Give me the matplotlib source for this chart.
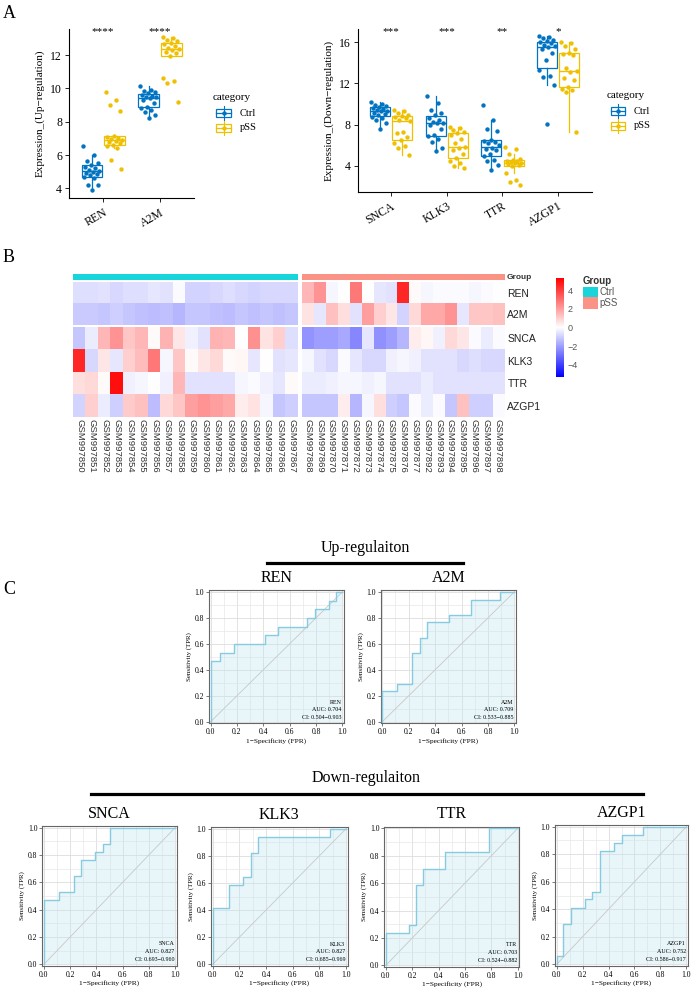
import numpy as np
import matplotlib
matplotlib.use("Agg")
import matplotlib.pyplot as plt
from matplotlib.colors import LinearSegmentedColormap
from matplotlib.patches import Rectangle
from matplotlib.lines import Line2D
import matplotlib.transforms as mtransforms

W, H = 694, 992
plt.rcParams['font.family'] = ['Liberation Serif', 'DejaVu Serif']
plt.rcParams['axes.unicode_minus'] = True

# ---------------- data: panel A ----------------
groups = ["Ctrl", "pSS"]
up_genes = ["REN", "A2M"]
down_genes = ["SNCA", "KLK3", "TTR", "AZGP1"]
up_stars = ["****", "****"]
down_stars = ["***", "***", "**", "*"]

ren_ctrl = [6.55, 6.02, 5.65, 5.52, 5.4, 5.3, 5.22, 5.12, 5.05, 4.98, 4.92, 4.85, 4.78, 4.68, 4.6, 4.22, 4.18, 3.9]
ren_pss = [9.8, 9.3, 9.0, 8.65, 7.15, 7.1, 7.02, 6.95, 6.9, 6.85, 6.78, 6.7, 6.62, 6.55, 6.45, 5.72, 5.15]
a2m_ctrl = [10.15, 9.9, 9.85, 9.78, 9.7, 9.62, 9.55, 9.5, 9.48, 9.4, 9.3, 9.1, 8.9, 8.85, 8.7, 8.6, 8.4, 8.2]
a2m_pss = [13.1, 13.0, 12.92, 12.85, 12.75, 12.65, 12.55, 12.45, 12.35, 12.3, 12.2, 12.1, 11.95, 10.6, 10.45, 10.3, 9.2]
snca_ctrl = [10.15, 10.0, 9.9, 9.8, 9.7, 9.6, 9.5, 9.42, 9.35, 9.28, 9.15, 9.05, 8.9, 8.75, 8.6, 8.4, 8.15, 7.6]
snca_pss = [9.4, 9.3, 9.15, 8.95, 8.8, 8.75, 8.6, 8.4, 8.35, 7.3, 7.15, 6.8, 6.5, 6.2, 5.95, 5.7, 5.0]
klk3_ctrl = [10.8, 10.1, 9.4, 9.15, 8.95, 8.6, 8.4, 8.25, 8.2, 8.15, 8.0, 7.6, 7.0, 6.85, 6.6, 6.3, 5.7, 5.45]
klk3_pss = [7.75, 7.65, 7.5, 7.3, 7.15, 7.0, 6.55, 6.2, 5.85, 5.75, 5.5, 5.1, 4.7, 4.5, 4.3, 3.95, 3.75]
ttr_ctrl = [9.95, 8.4, 7.6, 7.4, 6.5, 6.45, 6.35, 6.2, 6.0, 5.7, 5.6, 5.5, 5.1, 4.9, 4.6, 4.5, 4.05, 3.6]
ttr_pss = [5.8, 5.6, 5.1, 4.65, 4.6, 4.5, 4.45, 4.35, 4.3, 4.25, 4.15, 4.05, 4.0, 3.3, 2.6, 2.45, 2.1]
azgp1_ctrl = [16.6, 16.5, 16.4, 16.25, 16.1, 16.0, 15.9, 15.75, 15.6, 15.55, 15.4, 14.95, 14.3, 13.3, 12.75, 12.6, 11.85, 8.05]
azgp1_pss = [16.05, 15.9, 15.6, 15.4, 14.95, 14.85, 14.75, 13.5, 13.25, 13.15, 12.5, 12.3, 11.7, 11.5, 11.35, 11.2, 7.3]

# ---------------- data: panel B (z-scores) ----------------
hm_genes = ["REN", "A2M", "SNCA", "KLK3", "TTR", "AZGP1"]
ctrl_samples = ["GSM997850", "GSM997851", "GSM997852", "GSM997853", "GSM997854", "GSM997855",
                "GSM997856", "GSM997857", "GSM997858", "GSM997859", "GSM997860", "GSM997861",
                "GSM997862", "GSM997863", "GSM997864", "GSM997865", "GSM997866", "GSM997867"]
pss_samples = ["GSM997868", "GSM997869", "GSM997870", "GSM997871", "GSM997872", "GSM997873",
               "GSM997874", "GSM997875", "GSM997876", "GSM997877", "GSM997892", "GSM997893",
               "GSM997894", "GSM997895", "GSM997896", "GSM997897", "GSM997898"]
ren_z_ctrl = [-0.7, -0.7, -0.6, -0.8, -0.7, -0.7, -0.5, -0.6, -0.1, -0.9, -0.9, -0.8, -0.7, -0.8, -0.9, -0.8, -0.8, -0.8]
ren_z_pss = [1.5, 2.2, -0.2, 0.0, 2.8, 0.0, -0.5, -0.6, 4.5, 0.1, -0.2, -0.1, -0.1, -0.1, -0.2, -0.1, 0.0]
a2m_z_ctrl = [-1.1, -1.1, -1.2, -1.0, -1.2, -1.3, -1.4, -1.3, -1.5, -1.2, -1.2, -1.3, -1.4, -1.2, -1.3, -1.2, -1.3, -1.2]
a2m_z_pss = [0.6, -0.5, 1.3, 0.7, -0.6, 2.0, 1.0, 0.5, -0.9, 0.8, 1.8, 1.8, 2.2, -0.5, 1.2, 1.2, 1.3]
snca_z_ctrl = [-1.2, -0.4, 1.5, 2.2, 1.2, 1.5, 0.1, 1.6, 0.5, -0.3, -0.6, 1.6, 1.5, 0.0, 2.3, 0.6, 1.0, -0.7]
snca_z_pss = [-2.2, -2.0, -2.0, -1.8, -2.5, -0.5, -2.3, -2.0, -1.5, 0.4, 0.2, -0.3, 0.8, 0.5, -0.1, -0.4, -0.1]
klk3_z_ctrl = [4.5, -0.8, 0.5, -0.5, 1.0, 1.4, 2.8, -0.2, 1.2, 0.1, 0.5, 0.8, 0.1, 0.2, -0.5, 0.0, -0.6, -0.5]
klk3_z_pss = [-0.2, -0.6, -0.8, -0.1, -0.5, -0.8, -0.8, -0.3, -0.2, -0.3, -0.6, -0.6, -0.6, -0.8, -0.7, -0.8, -0.8]
ttr_z_ctrl = [0.7, 0.8, 0.1, 5.0, -0.3, -0.2, 0.0, -0.3, 1.5, -0.6, -0.6, -0.6, -0.6, -0.2, -0.1, -0.3, -0.5, 0.1]
ttr_z_pss = [-0.4, -0.4, -0.3, -0.2, -0.2, -0.3, -0.2, -0.6, -0.6, -0.6, -0.4, -0.6, -0.6, -0.6, -0.6, -0.6, -0.6]
azgp1_z_ctrl = [-0.9, 1.0, -0.4, -1.0, 1.1, 1.3, -1.4, 0.8, 1.2, 2.0, 2.2, 2.0, 1.8, 0.4, 0.6, -0.2, -1.2, -1.0]
azgp1_z_pss = [-1.2, -1.2, -1.2, 0.4, -1.5, -0.2, 0.7, -1.0, -1.2, -0.1, -0.4, -0.1, -1.2, 1.3, -1.0, -1.0, -0.1]
cbar_ticks = [4, 2, 0, -2, -4]

# ---------------- data: panel C (ROC step points) ----------------
ren_fpr = [0.0, 0.07, 0.18, 0.41, 0.51, 0.73, 0.79, 0.90, 0.955, 1.0]
ren_tpr = [0.467, 0.533, 0.6, 0.667, 0.733, 0.8, 0.867, 0.933, 1.0, 1.0]
a2m_fpr = [0.0, 0.113, 0.224, 0.286, 0.34, 0.505, 0.67, 0.894, 1.0]
a2m_tpr = [0.235, 0.294, 0.529, 0.647, 0.765, 0.824, 0.941, 1.0, 1.0]
snca_fpr = [0.0, 0.117, 0.226, 0.283, 0.392, 0.449, 0.504, 1.0]
snca_tpr = [0.471, 0.529, 0.647, 0.765, 0.824, 0.882, 1.0, 1.0]
klk3_fpr = [0.0, 0.122, 0.229, 0.285, 0.339, 0.883, 1.0]
klk3_tpr = [0.412, 0.588, 0.647, 0.824, 0.941, 1.0, 1.0]
ttr_fpr = [0.0, 0.173, 0.23, 0.284, 0.449, 0.78, 1.0]
ttr_tpr = [0.235, 0.294, 0.588, 0.706, 0.824, 1.0, 1.0]
azgp1_fpr = [0.0, 0.053, 0.108, 0.22, 0.275, 0.333, 0.443, 0.5, 0.668, 1.0]
azgp1_tpr = [0.059, 0.294, 0.412, 0.471, 0.529, 0.824, 0.882, 0.941, 1.0, 1.0]
roc_auc = {"REN": "0.704", "A2M": "0.709", "SNCA": "0.827", "KLK3": "0.827", "TTR": "0.703", "AZGP1": "0.752"}
roc_ci = {"REN": "0.504\u22120.903", "A2M": "0.533\u22120.885", "SNCA": "0.693\u22120.960",
          "KLK3": "0.685\u22120.969", "TTR": "0.524\u22120.882", "AZGP1": "0.586\u22120.917"}

CTRL_C = "#0073C2"
PSS_C = "#EFC000"
ANN_CTRL = "#17D5DA"
ANN_PSS = "#FA9286"

fig = plt.figure(figsize=(W / 100, H / 100), dpi=100)


def add_ax(x0, y0, x1, y1):
    return fig.add_axes([x0 / W, 1 - y1 / H, (x1 - x0) / W, (y1 - y0) / H])


def ftext(x, y, s, **kw):
    fig.text(x / W, 1 - y / H, s, **kw)


# ======================= Panel A =======================
def box_panel(ax, genes, ctrl_list, pss_list, stars, ylim, yticks, ylabel):
    for i in range(len(genes)):
        for vals, off, col in ((ctrl_list[i], -0.2, CTRL_C), (pss_list[i], 0.2, PSS_C)):
            pos = i + 1 + off
            ax.boxplot([vals], positions=[pos], widths=0.36, showfliers=False, showcaps=False,
                       patch_artist=True, whis=1.5,
                       boxprops=dict(facecolor="white", edgecolor=col, linewidth=0.9),
                       medianprops=dict(color=col, linewidth=1.0),
                       whiskerprops=dict(color=col, linewidth=0.9))
            k = len(vals)
            jit = ((np.arange(k) * 0.618034) % 1 - 0.5) * 0.3
            ax.scatter(pos + jit, vals, s=10, color=col, zorder=3, linewidths=0)
        tr = mtransforms.blended_transform_factory(ax.transData, ax.transAxes)
        ax.text(i + 1, 0.985, stars[i], transform=tr, ha="center", va="center", fontsize=8)
    ax.set_xlim(0.4, len(genes) + 0.6)
    ax.set_ylim(*ylim)
    ax.set_yticks(yticks)
    ax.set_xticks(range(1, len(genes) + 1))
    ax.set_xticklabels(genes, rotation=30, ha="right", rotation_mode="anchor", fontsize=8.5)
    ax.tick_params(axis="y", labelsize=8.5, length=3, width=0.6, pad=2)
    ax.tick_params(axis="x", length=3, width=0.6, pad=3)
    for s in ("top", "right"):
        ax.spines[s].set_visible(False)
    for s in ("left", "bottom"):
        ax.spines[s].set_linewidth(0.8)
    ax.set_ylabel(ylabel, fontsize=8)


axA1 = add_ax(69, 29, 194, 198)
box_panel(axA1, up_genes, [ren_ctrl, a2m_ctrl], [ren_pss, a2m_pss], up_stars,
          (3.42, 13.56), [4, 6, 8, 10, 12], "Expression_(Up\u2212regulation)")
axA2 = add_ax(357.5, 29, 591.7, 192)
box_panel(axA2, down_genes, [snca_ctrl, klk3_ctrl, ttr_ctrl, azgp1_ctrl],
          [snca_pss, klk3_pss, ttr_pss, azgp1_pss], down_stars,
          (1.44, 17.3), [4, 8, 12, 16], "Expression_(Down\u2212regulation)")


def legend_keys(x, ytitle, y1, y2):
    ftext(x, ytitle, "category", fontsize=8, va="center", ha="left")
    for yc, col, lab in ((y1, CTRL_C, groups[0]), (y2, PSS_C, groups[1])):
        bx0, bx1 = x + 3.5, x + 18
        fig.add_artist(Line2D([(bx0 + bx1) / 2 / W] * 2, [1 - (yc - 7) / H, 1 - (yc + 7) / H],
                              color=col, lw=0.8, transform=fig.transFigure))
        fig.add_artist(Rectangle((bx0 / W, 1 - (yc + 4.2) / H), (bx1 - bx0) / W, 8.4 / H,
                                 facecolor="white", edgecolor=col, lw=0.9, transform=fig.transFigure))
        fig.add_artist(Line2D([bx0 / W, bx1 / W], [1 - yc / H] * 2, color=col, lw=0.9,
                              transform=fig.transFigure))
        fig.add_artist(Line2D([(bx0 + bx1) / 2 / W], [1 - yc / H], marker="o", markersize=3.2,
                              color=col, markeredgewidth=0, transform=fig.transFigure))
        ftext(x + 27, yc, lab, fontsize=7.5, va="center", ha="left")


legend_keys(213, 97, 113, 128)
legend_keys(607, 95, 111, 126)

ftext(3, 13, "A", fontsize=13, va="center", ha="left")
ftext(3, 257, "B", fontsize=13, va="center", ha="left")
ftext(3, 590, "C", fontsize=13, va="center", ha="left")

# ======================= Panel B =======================
SANS = ["Liberation Sans", "DejaVu Sans"]
cmap = LinearSegmentedColormap.from_list("bwr2", ["#0000FF", "#FFFFFF", "#FF0000"])
VMIN, VMAX = -5.3, 5.3
top_ctrl = np.array([ren_z_ctrl, a2m_z_ctrl])
top_pss = np.array([ren_z_pss, a2m_z_pss])
bot_ctrl = np.array([snca_z_ctrl, klk3_z_ctrl, ttr_z_ctrl, azgp1_z_ctrl])
bot_pss = np.array([snca_z_pss, klk3_z_pss, ttr_z_pss, azgp1_z_pss])

xc0, xc1, xp0, xp1 = 73.3, 298.3, 301.7, 504
blocks = [
    (xc0, xc1, 282, 325, top_ctrl, None, None),
    (xp0, xp1, 282, 325, top_pss, hm_genes[:2], None),
    (xc0, xc1, 327.3, 416.7, bot_ctrl, None, ctrl_samples),
    (xp0, xp1, 327.3, 416.7, bot_pss, hm_genes[2:], pss_samples),
]
for x0, x1, y0, y1, mat, rlabels, clabels in blocks:
    ax = add_ax(x0, y0, x1, y1)
    ax.imshow(mat, cmap=cmap, vmin=VMIN, vmax=VMAX, aspect="auto", interpolation="nearest")
    for s in ax.spines.values():
        s.set_visible(False)
    ax.set_xticks([])
    ax.set_yticks([])
    if rlabels is not None:
        ax.yaxis.tick_right()
        ax.set_yticks(range(len(rlabels)))
        ax.set_yticklabels(rlabels, fontsize=7.5, family=SANS, color="#222222")
        ax.tick_params(axis="y", length=0, pad=2.5)
    if clabels is not None:
        ax.set_xticks(range(len(clabels)))
        ax.set_xticklabels(clabels, rotation=270, fontsize=6.8, family=SANS, color="#333333",
                           va="top", ha="center")
        ax.tick_params(axis="x", length=0, pad=1.5)

for x0, x1, col, n in ((xc0, xc1, ANN_CTRL, len(ctrl_samples)), (xp0, xp1, ANN_PSS, len(pss_samples))):
    ax = add_ax(x0, 274, x1, 280.5)
    ax.imshow(np.zeros((1, n)), cmap=LinearSegmentedColormap.from_list("c", [col, col]),
              aspect="auto", interpolation="nearest")
    ax.set_axis_off()
ftext(507, 277.5, "Group", fontsize=6, fontweight="bold", family=SANS, va="center", ha="left",
      color="#333333")

# colorbar
cax = add_ax(556, 278, 564, 377)
grad = np.linspace(VMAX, VMIN, 256).reshape(-1, 1)
cax.imshow(grad, cmap=cmap, vmin=VMIN, vmax=VMAX, aspect="auto", extent=[0, 1, VMIN, VMAX])
cax.set_xticks([])
cax.yaxis.tick_right()
cax.set_yticks(cbar_ticks)
cax.set_yticklabels([str(t).replace("-", "\u2212") for t in cbar_ticks], fontsize=6.5,
                    family=SANS, color="#555555")
cax.tick_params(axis="y", length=0, pad=2.5)
for s in cax.spines.values():
    s.set_visible(False)

ftext(583, 281.5, "Group", fontsize=7, fontweight="bold", family=SANS, va="center", ha="left",
      color="#333333")
for yy0, yy1, col, lab in ((286.7, 297.3, ANN_CTRL, groups[0]), (297.3, 309.3, ANN_PSS, groups[1])):
    fig.add_artist(Rectangle((583 / W, 1 - yy1 / H), 14.5 / W, (yy1 - yy0) / H, facecolor=col,
                             edgecolor="none", transform=fig.transFigure))
    ftext(599.5, (yy0 + yy1) / 2, lab, fontsize=7, family=SANS, va="center", ha="left",
          color="#555555")

# ======================= Panel C =======================
roc_data = {"REN": (ren_fpr, ren_tpr), "A2M": (a2m_fpr, a2m_tpr), "SNCA": (snca_fpr, snca_tpr),
            "KLK3": (klk3_fpr, klk3_tpr), "TTR": (ttr_fpr, ttr_tpr), "AZGP1": (azgp1_fpr, azgp1_tpr)}
roc_boxes = {"REN": (209, 590.3, 344, 723.3), "A2M": (380.7, 590.3, 516, 723.3),
             "SNCA": (42.3, 826, 176.7, 966), "KLK3": (211, 827, 347.7, 966),
             "TTR": (384.3, 826.7, 519.3, 967), "AZGP1": (555, 825, 688, 966)}

for gene, (fpr, tpr) in roc_data.items():
    ax = add_ax(*roc_boxes[gene])
    x = np.concatenate([[0.0], fpr])
    y = np.concatenate([[0.0], tpr])
    ax.fill_between(x, 0, y, step="post", color="#BFE3EE", alpha=0.35, lw=0, zorder=1)
    ax.plot([0, 1], [0, 1], color="#C8C8C8", lw=0.6, zorder=2)
    ax.step(x, y, where="post", color="#86CBE0", lw=1.0, zorder=3)
    ax.set_xlim(-0.012, 1.012)
    ax.set_ylim(-0.012, 1.012)
    ticks = [0.0, 0.2, 0.4, 0.6, 0.8, 1.0]
    ax.set_xticks(ticks)
    ax.set_yticks(ticks)
    ax.set_xticks(np.arange(0.1, 1.0, 0.2), minor=True)
    ax.set_yticks(np.arange(0.1, 1.0, 0.2), minor=True)
    ax.set_xticklabels([f"{t:.1f}" for t in ticks])
    ax.set_yticklabels([f"{t:.1f}" for t in ticks])
    ax.grid(True, which="major", color="#DDDDDD", lw=0.6)
    ax.grid(True, which="minor", color="#E8E8E8", lw=0.5)
    ax.set_axisbelow(True)
    ax.tick_params(which="major", labelsize=5.5, length=2, width=0.5, pad=1.5, color="#444444")
    ax.tick_params(which="minor", length=0)
    for s in ax.spines.values():
        s.set_color("#666666")
        s.set_linewidth(0.8)
    ax.set_xlabel("1\u2212Specificity (FPR)", fontsize=5.3, labelpad=1)
    ax.set_ylabel("Sensitivity (TPR)", fontsize=5.0, labelpad=2)
    ax.set_title(gene, fontsize=11.5, pad=6)
    ax.text(0.983, 0.158, gene, transform=ax.transAxes, ha="right", va="center", fontsize=4.3)
    ax.text(0.983, 0.102, "AUC: " + roc_auc[gene], transform=ax.transAxes, ha="right", va="center", fontsize=4.3)
    ax.text(0.983, 0.047, "CI: " + roc_ci[gene], transform=ax.transAxes, ha="right", va="center", fontsize=4.3)

ftext(365, 548, "Up-regulaiton", fontsize=11.5, ha="center", va="center")
fig.add_artist(Line2D([267 / W, 463 / W], [1 - 562.7 / H] * 2, color="black", lw=2.3,
                      transform=fig.transFigure))
ftext(366, 778, "Down-regulaiton", fontsize=11.5, ha="center", va="center")
fig.add_artist(Line2D([90.7 / W, 643 / W], [1 - 794 / H] * 2, color="black", lw=2.3,
                      transform=fig.transFigure))

fig.savefig("out.png", dpi=100)
